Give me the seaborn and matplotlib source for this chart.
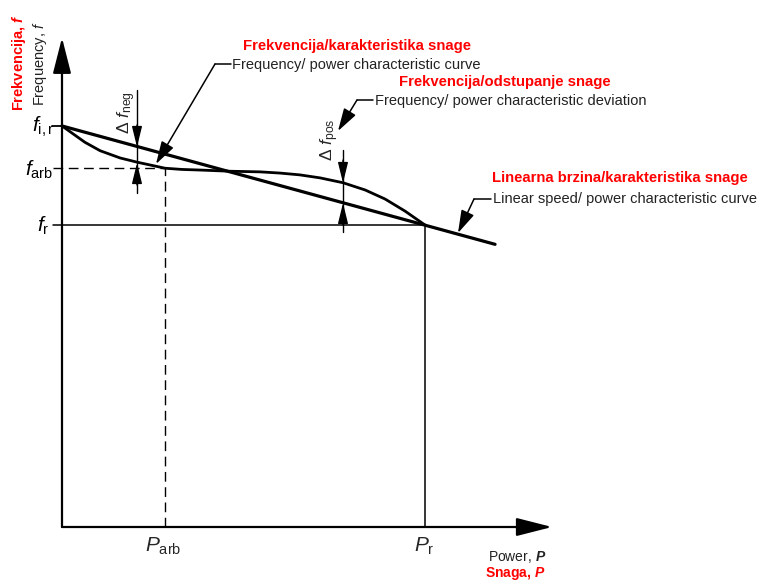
import matplotlib
matplotlib.use("Agg")
import matplotlib.pyplot as plt
import seaborn as sns
import pandas as pd

# ---- data (schematic units: power P in % of rated, frequency f) ----
P_r = 100.0
P_arb = 28.4
f_ir = 66.4
f_arb = 59.4
f_r = 50.0

linear_P = [0.0, 119.3]
linear_f = [66.4, 46.8]

curve_P = [0, 2.8, 6.3, 10.5, 16.0, 20.7, 28.4, 33.0, 38.0, 46.3, 54.5, 60.0, 65.5, 71.1, 77.4, 83.5, 89.0, 94.5, 100]
curve_f = [66.4, 65.2, 63.7, 62.3, 61.1, 60.4, 59.4, 59.2, 59.1, 58.9, 58.8, 58.6, 58.3, 57.8, 57.0, 55.8, 54.3, 52.3, 50.0]

P_axis_end = 135.0
f_axis_end = 81.0

# ---- style ----
sns.set_theme(style="white")
plt.rcParams["font.family"] = ["Liberation Sans", "DejaVu Sans"]
plt.rcParams["mathtext.fontset"] = "custom"
plt.rcParams["mathtext.rm"] = "Liberation Sans"
plt.rcParams["mathtext.it"] = "Liberation Sans:italic"
plt.rcParams["mathtext.bf"] = "Liberation Sans:bold:italic"

X0, Y0, SX, SY = 62.0, 527.0, 3.63, 6.04


def px(x, y):
    """pixel position -> data position (layout helper for annotations)"""
    return ((x - X0) / SX, (Y0 - y) / SY)


fig = plt.figure(figsize=(7.62, 5.81), dpi=100)
ax = fig.add_axes([0, 0, 1, 1])
ax.set_xlim(-X0 / SX, (762 - X0) / SX)
ax.set_ylim((Y0 - 581) / SY, Y0 / SY)
ax.axis("off")

# main curves
lin = pd.DataFrame({"P": linear_P, "f": linear_f})
dev = pd.DataFrame({"P": curve_P, "f": curve_f})
sns.lineplot(data=lin, x="P", y="f", ax=ax, color="black", lw=2.3, sort=False, estimator=None)
sns.lineplot(data=dev, x="P", y="f", ax=ax, color="black", lw=2.0, sort=False, estimator=None)

# axes with arrows
ax.annotate("", xy=(0, f_axis_end), xytext=(0, 0),
            arrowprops=dict(arrowstyle="-|>,head_length=1.1,head_width=0.28", mutation_scale=20,
                            lw=1.6, color="black", shrinkA=0, shrinkB=0))
ax.annotate("", xy=(P_axis_end, 0), xytext=(0, 0),
            arrowprops=dict(arrowstyle="-|>,head_length=1.1,head_width=0.28", mutation_scale=20,
                            lw=1.6, color="black", shrinkA=0, shrinkB=0))

# reference lines
tick0 = px(53, 0)[0]
ax.plot([tick0, P_r], [f_r, f_r], color="black", lw=1.1)
ax.plot([P_r, P_r], [0, f_r], color="black", lw=1.1)
ax.plot([tick0, P_arb], [f_arb, f_arb], color="black", lw=1.0, ls=(0, (7, 4)))
ax.plot([P_arb, P_arb], [0, f_arb], color="black", lw=1.0, ls=(0, (7, 4)))
ax.plot([px(52, 0)[0], 0], [f_ir, f_ir], color="black", lw=1.3)

# tick labels
tk = dict(fontsize=15, color="black", va="center", ha="right")
ax.text(*px(54, 127), r"$\mathit{f}_{\mathrm{i,r}}$", **tk)
ax.text(*px(53, 170), r"$\mathit{f}_{\mathrm{arb}}$", **tk)
ax.text(*px(49, 226), r"$\mathit{f}_{\mathrm{r}}$", **tk)
ax.text(*px(163, 546), r"$\mathit{P}_{\mathrm{arb}}$", fontsize=15, ha="center", va="center")
ax.text(*px(424, 546), r"$\mathit{P}_{\mathrm{r}}$", fontsize=15, ha="center", va="center")

# delta markers
arr = dict(arrowstyle="-|>,head_length=0.9,head_width=0.22", mutation_scale=14, lw=1.0,
           color="black", shrinkA=0, shrinkB=0)
xn = px(137, 0)[0]
ax.plot([xn, xn], [px(0, 90)[1], px(0, 193)[1]], color="black", lw=1.0)
ax.annotate("", xy=px(137, 147), xytext=px(137, 125), arrowprops=arr)
ax.annotate("", xy=px(137, 163), xytext=px(137, 185), arrowprops=arr)
ax.text(*px(127, 113), r"$\Delta\ \mathit{f}_{\mathrm{neg}}$", fontsize=12.5, rotation=90,
        ha="center", va="center")

xp = px(343, 0)[0]
ax.plot([xp, xp], [px(0, 150)[1], px(0, 232)[1]], color="black", lw=1.0)
ax.annotate("", xy=px(343, 183), xytext=px(343, 160), arrowprops=arr)
ax.annotate("", xy=px(343, 203), xytext=px(343, 225), arrowprops=arr)
ax.text(*px(330, 140), r"$\Delta\ \mathit{f}_{\mathrm{pos}}$", fontsize=12.5, rotation=90,
        ha="center", va="center")

# leaders
lead = dict(arrowstyle="-|>,head_length=1.0,head_width=0.3", mutation_scale=14, lw=1.1,
            color="black", shrinkA=0, shrinkB=0)


def leader(hx0, hx1, hy, tx, ty):
    a, b = px(hx0, hy), px(hx1, hy)
    ax.plot([a[0], b[0]], [a[1], b[1]], color="black", lw=1.1)
    ax.annotate("", xy=px(tx, ty), xytext=a, arrowprops=lead)


leader(215, 231, 64, 156, 164)
leader(357, 373, 100, 338, 131)
leader(474, 491, 199, 458, 233)

# annotation labels
blk = dict(fontsize=10.5, color="#222222", ha="left", va="center")
red = dict(fontsize=10.7, color="#ff0000", ha="left", va="center", fontweight="bold")
ax.text(*px(232, 65), "Frequency/ power characteristic curve", **blk)
ax.text(*px(243, 46), "Frekvencija/karakteristika snage", **red)
ax.text(*px(375, 101), "Frequency/ power characteristic deviation", **blk)
ax.text(*px(399, 82), "Frekvencija/odstupanje snage", **red)
ax.text(*px(493, 199), "Linear speed/ power characteristic curve", **blk)
ax.text(*px(492, 178), "Linearna brzina/karakteristika snage", **red)

# axis titles
ax.text(*px(19, 111), r"Frekvencija, $\mathbf{f}$", fontsize=10.5, color="#ff0000",
        fontweight="bold", rotation=90, ha="center", va="bottom")
ax.text(*px(40, 106), r"Frequency, $\mathit{f}$", fontsize=10.5, color="#222222",
        rotation=90, ha="center", va="bottom")
ax.text(*px(546, 557), r"Power, $\mathbf{P}$", fontsize=10, color="#222222", ha="right", va="center")
ax.text(*px(546, 574), r"Snaga, $\mathbf{P}$", fontsize=10, color="#ff0000", fontweight="bold",
        ha="right", va="center")

fig.savefig("out.png", dpi=100, facecolor="white")
